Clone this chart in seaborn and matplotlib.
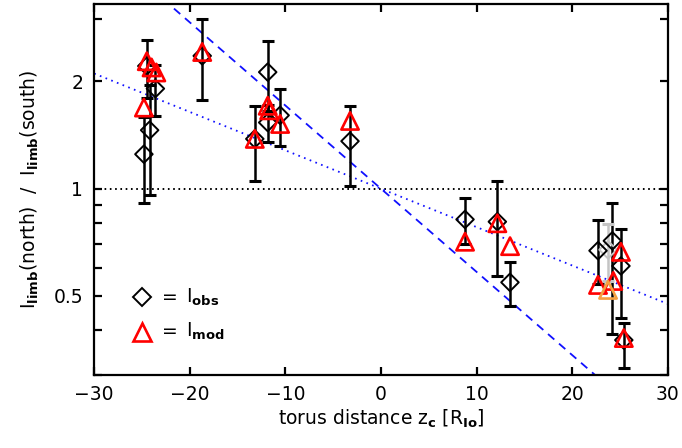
import numpy as np
import pandas as pd
import matplotlib
matplotlib.use("Agg")
import matplotlib.pyplot as plt
import seaborn as sns
from matplotlib.ticker import FixedLocator, FixedFormatter, NullFormatter

# Observed north/south limb ratios vs. torus distance (with error-bar extents)
z_obs = [-24.8, -24.2, -24.5, -23.6, -18.7, -13.2, -11.85, -11.85, -10.55,
         -3.24, 8.79, 12.17, 13.49, 22.7, 24.2, 25.1, 25.4]
r_obs = [1.25, 1.46, 2.21, 1.91, 2.36, 1.38, 2.125, 1.534, 1.607,
         1.36, 0.82, 0.808, 0.546, 0.67, 0.714, 0.607, 0.376]
r_obs_lo = [0.913, 0.962, 1.80, 1.60, 1.78, 1.048, 1.65, 1.35, 1.315,
            1.015, 0.699, 0.569, 0.469, 0.54, 0.391, 0.433, 0.313]
r_obs_hi = [1.594, 1.96, 2.62, 2.22, 2.99, 1.712, 2.597, 1.72, 1.899,
            1.704, 0.9415, 1.048, 0.622, 0.818, 0.9116, 0.770, 0.419]

# Modelled ratios
z_mod = [-24.5, -24.0, -23.5, -24.8, -18.7, -11.85, -11.7, -10.55, -13.2,
         -3.24, 8.79, 12.17, 13.5, 22.7, 24.3, 25.1, 25.4]
r_mod = [2.28, 2.19, 2.12, 1.69, 2.42, 1.71, 1.66, 1.52, 1.38,
         1.55, 0.71, 0.80, 0.69, 0.537, 0.551, 0.665, 0.381]

# Flagged observation (drawn in light colours)
z_flag = [23.75]
r_flag_obs = [0.674]
r_flag_lo = [0.55]
r_flag_hi = [0.797]
r_flag_mod = [0.52]

# Exponential scale heights of the two reference curves [R_Io]
H_dotted = 40.3
H_dashed = 18.6

x_ticks = [-30, -20, -10, 0, 10, 20, 30]
y_major = [0.5, 1, 2]
y_major_labels = ["0.5", "1", "2"]
y_minor = [0.3, 0.4, 0.6, 0.7, 0.8, 0.9, 3]

plt.rcParams["lines.scale_dashes"] = False
plt.rcParams["font.family"] = ["DejaVu Sans"]
plt.rcParams["mathtext.fontset"] = "dejavusans"
FS = 13.5

fig = plt.figure(figsize=(6.82, 4.48), dpi=100)
ax = fig.add_axes([94.2 / 682, 1 - 375 / 448, 573.6 / 682, 371 / 448])
ax.set_yscale("log")
ax.set_xlim(-30, 30)
ax.set_ylim(0.3, 3.3)

# reference lines
zz = np.linspace(-30, 30, 400)
curves = pd.DataFrame({"z": zz,
                       "dotted": np.exp(-zz / H_dotted),
                       "dashed": np.exp(-zz / H_dashed)})
ax.axhline(1.0, color="black", lw=1.4, ls=(0, (1.2, 2.6)), zorder=1)
sns.lineplot(data=curves, x="z", y="dotted", ax=ax, color="#1010ff",
             lw=1.3, ls=(0, (1.2, 3.2)), zorder=1)
sns.lineplot(data=curves, x="z", y="dashed", ax=ax, color="#1010ff",
             lw=1.3, ls=(0, (6, 4.5)), zorder=1)

# error bars
r_obs_a = np.array(r_obs)
yerr = np.vstack([r_obs_a - np.array(r_obs_lo), np.array(r_obs_hi) - r_obs_a])
ax.errorbar(z_obs, r_obs, yerr=yerr, fmt="none", ecolor="black",
            elinewidth=1.8, capsize=4.5, capthick=2.2, zorder=2)
rf = np.array(r_flag_obs)
ax.errorbar(z_flag, r_flag_obs,
            yerr=np.vstack([rf - np.array(r_flag_lo), np.array(r_flag_hi) - rf]),
            fmt="none", ecolor="#c4c4c4", elinewidth=1.8, capsize=4.5,
            capthick=2.2, zorder=2)

# observations (diamonds) and model values (triangles)
sns.scatterplot(x=z_flag, y=r_flag_obs, ax=ax, marker="D", s=80,
                fc="none", ec="#c4c4c4", linewidth=1.4, zorder=3)
sns.scatterplot(x=z_obs, y=r_obs, ax=ax, marker="D", s=80,
                fc="none", ec="black", linewidth=1.4, zorder=3)
sns.scatterplot(x=z_mod, y=r_mod, ax=ax, marker="^", s=155,
                fc="none", ec="#ff0000", linewidth=1.9, zorder=4)
sns.scatterplot(x=z_flag, y=r_flag_mod, ax=ax, marker="^", s=155,
                fc="none", ec="#f5a040", linewidth=1.9, zorder=4)

# axes styling
for sp in ax.spines.values():
    sp.set_linewidth(1.6)
ax.xaxis.set_major_locator(FixedLocator(x_ticks))
ax.set_xticklabels([f"{t}" if t >= 0 else f"\u2212{abs(t)}" for t in x_ticks])
ax.yaxis.set_major_locator(FixedLocator(y_major))
ax.yaxis.set_major_formatter(FixedFormatter(y_major_labels))
ax.yaxis.set_minor_locator(FixedLocator(y_minor))
ax.yaxis.set_minor_formatter(NullFormatter())
ax.xaxis.set_minor_locator(FixedLocator([]))
ax.tick_params(which="both", direction="in", top=True, right=True,
               width=1.6, labelsize=FS)
ax.tick_params(which="major", length=5.5)
ax.tick_params(which="minor", length=5.5)
ax.tick_params(axis="x", pad=7)
ax.tick_params(axis="y", pad=8)

ax.set_xlabel(r"torus distance $\mathrm{z}_{\mathbf{c}}$ $[\mathrm{R}_{\mathbf{Io}}]$",
              fontsize=FS, labelpad=3)
ax.set_ylabel(r"$\mathrm{I}_{\mathbf{limb}}$(north)  /  $\mathrm{I}_{\mathbf{limb}}$(south)",
              fontsize=FS, labelpad=9)

# symbol key
ax.plot([0.0828], [0.2094], marker="D", ms=8.9, mfc="none", mec="black",
        mew=1.4, transform=ax.transAxes, clip_on=False)
ax.plot([0.0828], [0.1167], marker="^", ms=12.4, mfc="none", mec="#ff0000",
        mew=1.9, transform=ax.transAxes, clip_on=False)
ax.text(0.132, 0.2094, "=", transform=ax.transAxes, fontsize=FS,
        ha="center", va="center")
ax.text(0.132, 0.1167, "=", transform=ax.transAxes, fontsize=FS,
        ha="center", va="center")
ax.text(0.160, 0.2094, r"$\mathrm{I}_{\mathbf{obs}}$", transform=ax.transAxes,
        fontsize=FS, ha="left", va="center")
ax.text(0.160, 0.1167, r"$\mathrm{I}_{\mathbf{mod}}$", transform=ax.transAxes,
        fontsize=FS, ha="left", va="center")

fig.savefig("out.png", dpi=100)
